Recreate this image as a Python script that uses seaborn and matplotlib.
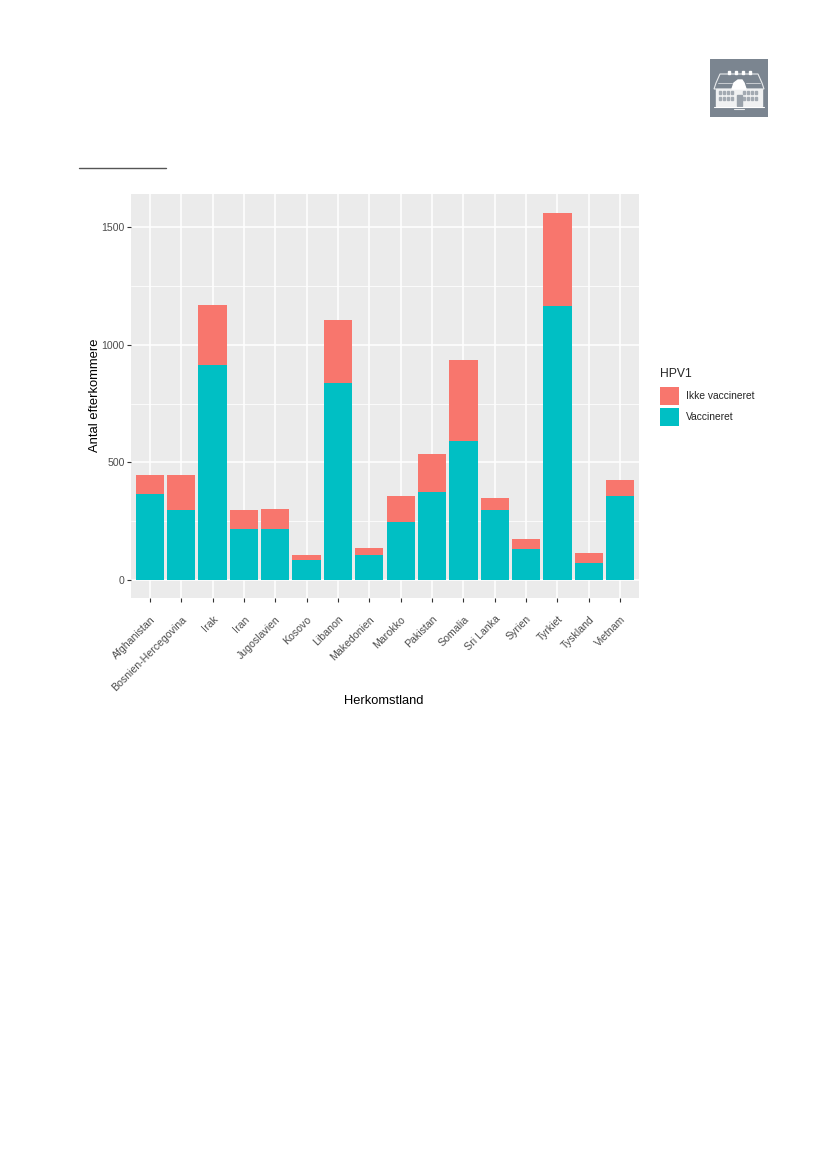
import matplotlib.pyplot as plt
import matplotlib.patches as mpatches
import pandas as pd
import seaborn as sns

W, H = 827, 1169

lande = ["Afghanistan", "Bosnien-Hercegovina", "Irak", "Iran", "Jugoslavien", "Kosovo",
         "Libanon", "Makedonien", "Marokko", "Pakistan", "Somalia", "Sri Lanka",
         "Syrien", "Tyrkiet", "Tyskland", "Vietnam"]
vaccineret = [363, 297, 915, 214, 214, 85, 838, 103, 244, 372, 590, 295, 132, 1167, 73, 355]
ikke_vaccineret = [81, 148, 256, 81, 85, 22, 269, 34, 111, 162, 346, 51, 43, 394, 42, 68]
status = ["Ikke vaccineret", "Vaccineret"]
farver = ["#F8766D", "#00BFC4"]

df = pd.DataFrame({
    "land": lande * 2,
    "HPV1": [status[0]] * len(lande) + [status[1]] * len(lande),
    "antal": ikke_vaccineret + vaccineret,
})
df["land"] = pd.Categorical(df["land"], categories=lande, ordered=True)

sns.set_theme(style="white")
plt.rcParams["font.family"] = ["Liberation Sans", "DejaVu Sans"]


def px_axes(fig, x0, y0, x1, y1):
    # pixel box (y from the top) to figure fractions
    return fig.add_axes([x0 / W, 1 - y1 / H, (x1 - x0) / W, (y1 - y0) / H])


def draw_logo(fig):
    ax = px_axes(fig, 710, 59, 768, 117)
    ax.set_xlim(0, 58)
    ax.set_ylim(58, 0)
    ax.axis("off")
    ax.add_patch(mpatches.Rectangle((0, 0), 58, 58, color="#7b8590"))
    # roof, house and centre gable
    ax.add_patch(mpatches.Polygon([[4, 30], [6, 24], [10, 15], [48, 15], [52, 24], [54, 30]],
                                  fc="#7b8590", ec="#e8eaec", lw=0.8))
    ax.add_patch(mpatches.Rectangle((6, 30), 46, 17, color="#f0f1f2"))
    ax.add_patch(mpatches.Polygon([[22, 30], [24, 24], [28, 21], [32, 21], [34, 24], [36, 30]], color="white"))
    ax.plot([8, 22], [24, 24], color="#d5d8dc", lw=0.6)
    ax.plot([36, 50], [24, 24], color="#d5d8dc", lw=0.6)
    for x in [17.5, 24.5, 31.5, 38.5]:
        ax.add_patch(mpatches.Rectangle((x, 11.5), 2, 3.5, color="white"))
    for row in [32, 38]:
        for x in [9, 13, 17, 21, 33, 37, 41, 45]:
            ax.add_patch(mpatches.Rectangle((x, row), 2.2, 3.4, color="#a3aab2"))
    ax.add_patch(mpatches.Rectangle((26.5, 36), 5, 11, color="#98a0a9"))
    ax.plot([4, 54], [47.5, 47.5], color="white", lw=0.8)
    ax.plot([24, 34], [50, 50], color="#e8eaec", lw=0.8)


fig = plt.figure(figsize=(W / 100, H / 100), dpi=100)
draw_logo(fig)
fig.add_artist(plt.Line2D([78.5 / W, 166 / W], [1 - 168 / H] * 2, color="#555555", lw=1.0))

ax = px_axes(fig, 131, 194, 639, 598)
ax.set_facecolor("#EBEBEB")
sns.histplot(
    data=df, x="land", hue="HPV1", weights="antal", hue_order=status, palette=farver,
    multiple="stack", discrete=True, shrink=0.9, alpha=1, linewidth=0, ax=ax,
)
ax.set_xlim(-0.6, 15.6)
ax.set_ylim(-78, 1642)

ax.set_yticks([0, 500, 1000, 1500])
ax.set_yticks([250, 750, 1250], minor=True)
ax.set_xticks(range(len(lande)))
ax.set_xticklabels(lande, rotation=45, ha="right", va="top", rotation_mode="anchor")
ax.grid(True, which="major", color="white", lw=1.1)
ax.grid(True, which="minor", axis="y", color="white", lw=0.55)
ax.set_axisbelow(True)
for s in ax.spines.values():
    s.set_visible(False)
ax.tick_params(axis="both", which="major", length=2.6, width=0.8, color="#333333",
               labelcolor="#4D4D4D", labelsize=7.6, pad=2, bottom=True, left=True)
ax.tick_params(axis="x", pad=9)
ax.tick_params(axis="y", which="minor", length=0)
ax.set_xlabel("Herkomstland", fontsize=9.3, color="black", labelpad=0)
ax.xaxis.set_label_coords((384 - 131) / 508, -(701 - 598) / 404, transform=ax.transAxes)
ax.xaxis.label.set_va("center")
ax.set_ylabel("Antal efterkommere", fontsize=9.4, color="black")
ax.yaxis.set_label_coords((95 - 131) / 508, (598 - 395) / 404, transform=ax.transAxes)
ax.yaxis.label.set_va("center")

sns.move_legend(
    ax, loc="upper left", bbox_to_anchor=(660 / W, 1 - 368 / H), bbox_transform=fig.transFigure,
    frameon=False, title="HPV1", fontsize=7.4, title_fontsize=8.7, borderpad=0, borderaxespad=0,
    handlelength=1.85, handleheight=2.4, handletextpad=0.66, labelspacing=0.2,
)
leg = ax.get_legend()
leg._legend_box.align = "left"
leg._legend_box.sep = 5

fig.savefig("out.png", dpi=100)
